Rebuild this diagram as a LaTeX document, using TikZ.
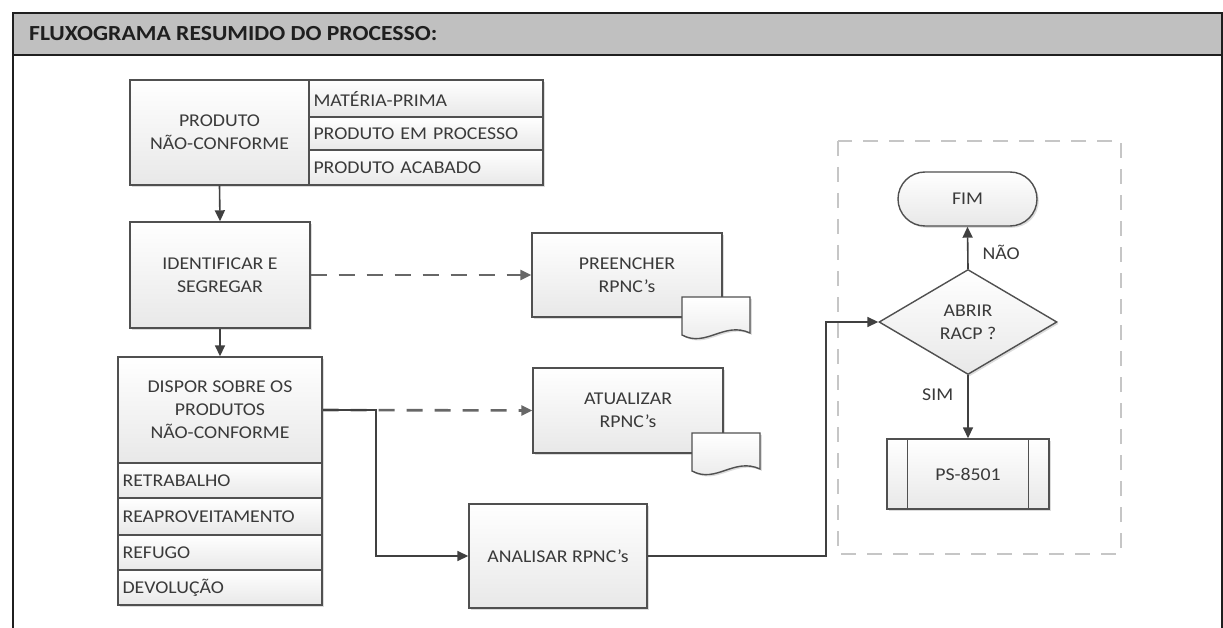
\documentclass[tikz,border=0pt]{standalone}
\usepackage{fontspec}
\setmainfont{Carlito}[FakeStretch=1.1]
\usetikzlibrary{arrows.meta,shapes.geometric,shapes.misc,shadows}

\definecolor{edgegray}{HTML}{505050}
\definecolor{txtgray}{HTML}{3A3A3A}
\definecolor{linegray}{HTML}{404040}
\definecolor{dashgray}{HTML}{676767}
\definecolor{groupgray}{HTML}{C6C6C6}
\definecolor{boxbot}{HTML}{E8E8E8}
\definecolor{headgray}{HTML}{C0C0C0}

\tikzset{
  txt/.style={text=txtgray, font=\fontsize{18}{23}\selectfont},
  softshadow/.style={drop shadow={shadow xshift=1.8pt, shadow yshift=-1.8pt, opacity=.28, fill=gray}},
  box/.style={draw=edgegray, line width=1.4pt, top color=white, bottom color=boxbot,
    softshadow, txt, align=center, inner sep=0pt},
  rowbox/.style 2 args={box, align=left, inner xsep=4.5pt, text width=#1-9pt, minimum height=#2},
  flow/.style={draw=linegray, line width=1.6pt, -{Triangle[length=11pt,width=10pt]}},
  plainline/.style={draw=linegray, line width=1.6pt},
  dflow/.style={flow, draw=dashgray, line width=2.6pt, dash pattern=on 16pt off 12pt},
  groupbox/.style={draw=groupgray, line width=2.6pt, dash pattern=on 15pt off 11pt},
  frameline/.style={draw=black!88, line width=1.6pt},
  docsheet/.pic={
    \path[draw=edgegray, line width=1.4pt, top color=white, bottom color=boxbot, softshadow]
      (0,0) -- (0,38) .. controls (24,51) and (42,24) .. (68,36) -- (68,0) -- cycle;
  }
}

\begin{document}
\begin{tikzpicture}[x=1pt,y=-1pt]
\useasboundingbox (0,0) rectangle (1223,628);

% header band and outer frame
\fill[headgray] (13,13) rectangle (1222,55);
\draw[frameline] (13,628) -- (13,13) -- (1222,13) -- (1222,628);
\draw[frameline] (13,55) -- (1222,55);
\node[anchor=west, inner sep=0pt, text=black!88, font=\fontsize{21.5}{24}\selectfont\bfseries]
  (title) at (29,34) {FLUXOGRAMA RESUMIDO DO PROCESSO:};

% non-conforming product and its kinds
\node[box, minimum width=179pt, minimum height=105pt] (pnc) at (219.5,132.5)
  {PRODUTO\\NÃO-CONFORME};
\node[rowbox={234pt}{37pt}] (mp) at (426,98.5) {MATÉRIA-PRIMA};
\node[rowbox={234pt}{33pt}] (pp) at (426,133.5) {PRODUTO EM PROCESSO};
\node[rowbox={234pt}{35pt}] (pa) at (426,167.5) {PRODUTO ACABADO};

% identify and segregate
\node[box, minimum width=180pt, minimum height=106pt] (idseg) at (220,275)
  {IDENTIFICAR E\\SEGREGAR};

% disposition and its options
\node[box, minimum width=204pt, minimum height=106pt] (disp) at (220,410)
  {DISPOR SOBRE OS\\PRODUTOS\\NÃO-CONFORME};
\node[rowbox={204pt}{35pt}] (ret) at (220,480.5) {RETRABALHO};
\node[rowbox={204pt}{37pt}] (rea) at (220,516.5) {REAPROVEITAMENTO};
\node[rowbox={204pt}{35pt}] (ref) at (220,552.5) {REFUGO};
\node[rowbox={204pt}{35pt}] (dev) at (220,587.5) {DEVOLUÇÃO};

% records
\node[box, minimum width=190pt, minimum height=84pt] (pre) at (627,275)
  {PREENCHER\\RPNC’s};
\pic at (682,297) {docsheet};
\node[box, minimum width=190pt, minimum height=85pt] (atu) at (628,410.5)
  {ATUALIZAR\\RPNC’s};
\pic at (692,433) {docsheet};

\node[box, minimum width=178pt, minimum height=104pt] (ana) at (558,556)
  {ANALISAR RPNC’s};

% corrective action group
\draw[groupbox] (838,141) rectangle (1121,554);
\node[box, rounded rectangle, minimum width=139pt, minimum height=54pt] (fim) at (967.5,199) {FIM};
\node[box, diamond, aspect=1.7, minimum width=178pt, minimum height=105pt] (dec) at (968,322)
  {ABRIR\\RACP ?};
\node[box, minimum width=162pt, minimum height=70pt] (ps) at (968,474) {PS-8501};
\draw[draw=edgegray, line width=1.4pt] ([xshift=21pt]ps.north west) -- ([xshift=21pt]ps.south west);
\draw[draw=edgegray, line width=1.4pt] ([xshift=-21pt]ps.north east) -- ([xshift=-21pt]ps.south east);

\coordinate (split) at (376,410);
\coordinate (up) at (826,556);

% connectors
\draw[flow] (pnc.south) -- (idseg.north);
\draw[flow] (idseg.south) -- (disp.north);
\draw[dflow] (idseg.east) -- (pre.west);
\draw[dflow] (disp.east) -- (atu.west);
\draw[flow] (disp.east) -- (split) |- (ana.west);
\draw[flow] (ana.east) -- (up) |- (dec.west);
\draw[flow] (dec.north) -- node[pos=0.39, right=14pt, txt, inner sep=0pt] (nao) {NÃO} (fim.south);
\draw[flow] (dec.south) -- node[pos=0.31, left=14pt, txt, inner sep=0pt] (sim) {SIM} (ps.north);
\end{tikzpicture}
\end{document}
